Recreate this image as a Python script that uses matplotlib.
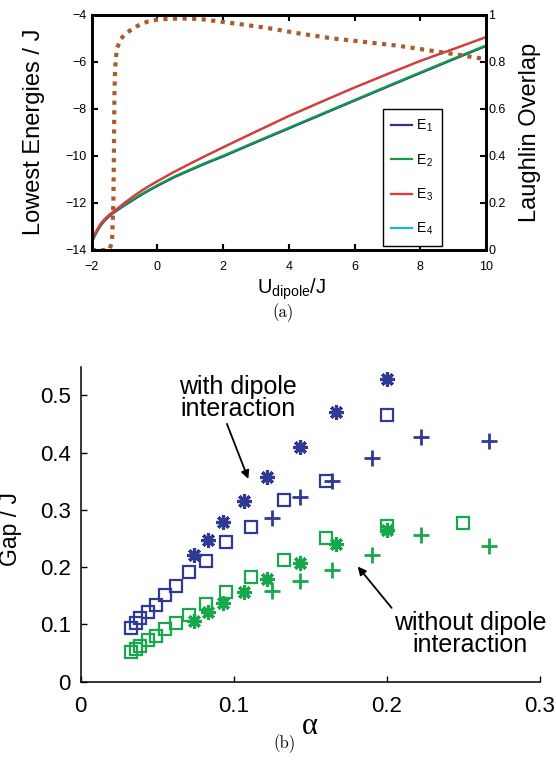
import matplotlib.pyplot as plt
from matplotlib.ticker import FuncFormatter

plt.rcParams['font.family'] = ['Liberation Sans', 'DejaVu Sans']
plt.rcParams['mathtext.fontset'] = 'custom'
plt.rcParams['mathtext.rm'] = 'Liberation Sans'
plt.rcParams['mathtext.it'] = 'Liberation Sans:italic'
plt.rcParams['mathtext.bf'] = 'Liberation Sans:bold'

# ---- (a) lowest energies and Laughlin overlap vs U_dipole ----
u_dip = [-2, -1.9, -1.75, -1.6, -1.45, -1.3, -1.15, -1, -0.75, -0.5, -0.25, 0, 0.5, 1,
         1.5, 2, 3, 4, 5, 6, 7, 8, 9, 10]
E1 = [-13.70, -13.38, -13.01, -12.75, -12.55, -12.39, -12.25, -12.11, -11.89, -11.67,
      -11.47, -11.28, -10.92, -10.61, -10.31, -10.03, -9.43, -8.84, -8.25, -7.66,
      -7.07, -6.49, -5.91, -5.34]
E2 = [-13.67, -13.35, -12.98, -12.72, -12.52, -12.36, -12.22, -12.08, -11.86, -11.64,
      -11.44, -11.25, -10.89, -10.58, -10.28, -10.00, -9.40, -8.81, -8.22, -7.63,
      -7.04, -6.46, -5.88, -5.31]
E3 = [-13.60, -13.30, -12.93, -12.68, -12.49, -12.33, -12.17, -12.00, -11.74, -11.50,
      -11.28, -11.08, -10.69, -10.33, -9.98, -9.64, -8.97, -8.31, -7.70, -7.10,
      -6.53, -5.97, -5.47, -4.96]
E4 = [-13.60, -13.30, -12.93, -12.68, -12.49, -12.33, -12.17, -12.00, -11.74, -11.50,
      -11.28, -11.08, -10.69, -10.33, -9.98, -9.64, -8.97, -8.31, -7.70, -7.10,
      -6.53, -5.97, -5.47, -4.96]

u_ov = [-2, -1.6, -1.45, -1.38, -1.34, -1.32, -1.31, -1.29, -1.26, -1.22, -1.12, -1.0,
        -0.8, -0.6, -0.3, 0, 0.4, 0.8, 1.3, 2.3, 3.3, 4.3, 5.3, 6.4, 7.4, 8.4, 9.2, 10]
overlap = [0, 0, 0.003, 0.04, 0.2, 0.45, 0.65, 0.76, 0.82, 0.86, 0.895, 0.915,
           0.935, 0.952, 0.97, 0.978, 0.982, 0.983, 0.981, 0.963, 0.944, 0.92,
           0.899, 0.882, 0.866, 0.845, 0.828, 0.81]

# ---- (b) gap vs alpha ----
a_sq = [0.033, 0.036, 0.039, 0.044, 0.049, 0.055, 0.062, 0.071, 0.082, 0.095,
        0.111, 0.133, 0.160, 0.200]
gap_sq_dip = [0.093, 0.102, 0.111, 0.122, 0.134, 0.152, 0.167, 0.191, 0.211, 0.244,
              0.270, 0.318, 0.350, 0.465]
a_sq2 = a_sq + [0.250]
gap_sq_nodip = [0.051, 0.057, 0.063, 0.073, 0.080, 0.092, 0.102, 0.117, 0.135, 0.156,
                0.182, 0.213, 0.251, 0.271, 0.277]

a_ast = [0.074, 0.083, 0.093, 0.107, 0.122, 0.143, 0.167, 0.200]
gap_ast_dip = [0.221, 0.248, 0.278, 0.316, 0.357, 0.409, 0.471, 0.529]
gap_ast_nodip = [0.106, 0.121, 0.137, 0.157, 0.180, 0.208, 0.240, 0.264]

a_plus = [0.125, 0.143, 0.164, 0.190, 0.222, 0.267]
gap_plus_dip = [0.286, 0.322, 0.350, 0.390, 0.428, 0.421]
gap_plus_nodip = [0.159, 0.176, 0.195, 0.221, 0.256, 0.236]

blue = '#2E3A94'
green = '#17A84B'

fig = plt.figure(figsize=(5.56, 7.68), dpi=100)

# top panel
ax = fig.add_axes([0.1649, 0.6745, 0.7092, 0.3066])
l4, = ax.plot(u_dip, E4, color='#1EB4D8', lw=1.6, zorder=1)
l1, = ax.plot(u_dip, E1, color='#2E3192', lw=1.6, zorder=2)
l2, = ax.plot(u_dip, E2, color='#0F9D48', lw=1.6, zorder=3)
l3, = ax.plot(u_dip, E3, color='#EE3333', lw=1.6, zorder=4)
ax.set_xlim(-2, 10)
ax.set_ylim(-14, -4)
ax.set_xticks(range(-2, 11, 2))
ax.set_yticks(range(-14, -3, 2))
ax.tick_params(direction='in', length=4, width=1.5, labelsize=9, top=True, right=False)
ax.tick_params(axis='x', pad=8)
ax.tick_params(axis='y', pad=4)
for s in ax.spines.values():
    s.set_linewidth(2)
ax.set_ylabel('Lowest Energies / J', fontsize=17)
ax.yaxis.set_label_coords(-0.118, 0.5)
ax.set_xlabel(r'U$_{\mathrm{dipole}}$/J', fontsize=14.5)
ax.xaxis.set_label_coords(0.508, -0.112)

leg = ax.legend([l1, l2, l3, l4], [r'E$_{\,1}$', r'E$_{\,2}$', r'E$_{\,3}$', r'E$_{\,4}$'],
                loc='lower right', bbox_to_anchor=(0.888, 0.018), borderaxespad=0,
                fontsize=10, handlelength=1.45, handletextpad=0.3, labelspacing=1.3,
                fancybox=False, edgecolor='k', framealpha=1, borderpad=0.6)
leg.get_frame().set_linewidth(1.0)

ax2 = ax.twinx()
ax2.plot(u_ov, overlap, color='#A95C2C', lw=3.0, linestyle=(0, (1.0, 1.3)), clip_on=False)
ax2.set_ylim(0, 1)
ax2.set_yticks([0, 0.2, 0.4, 0.6, 0.8, 1])
ax2.yaxis.set_major_formatter(FuncFormatter(lambda v, p: '%g' % v))
ax2.tick_params(direction='in', length=4, width=1.5, labelsize=9, pad=1.5)
for s in ax2.spines.values():
    s.set_linewidth(2)
ax2.set_ylabel('Laughlin Overlap', fontsize=17, rotation=90)
ax2.yaxis.set_label_coords(1.084, 0.5)

fig.text(0.509, 0.593, '(a)', family='cmr10', fontsize=12, ha='center', va='center')

# bottom panel
bx = fig.add_axes([0.1451, 0.1124, 0.8261, 0.4102])
bx.plot(a_sq, gap_sq_dip, 's', ms=8, mfc='none', mec=blue, mew=1.6)
bx.plot(a_ast, gap_ast_dip, marker=(8, 2, 0), ls='none', ms=10.5, mec=blue, mew=2.3)
bx.plot(a_plus, gap_plus_dip, '+', ms=11, mec=blue, mew=2.0)
bx.plot(a_sq2, gap_sq_nodip, 's', ms=8, mfc='none', mec=green, mew=1.6)
bx.plot(a_ast, gap_ast_nodip, marker=(8, 2, 0), ls='none', ms=10.5, mec=green, mew=2.3)
bx.plot(a_plus, gap_plus_nodip, '+', ms=11, mec=green, mew=2.0)
bx.set_xlim(0, 0.3)
bx.set_ylim(0, 0.55)
bx.set_xticks([0, 0.1, 0.2, 0.3])
bx.set_yticks([0, 0.1, 0.2, 0.3, 0.4, 0.5])
fmt = FuncFormatter(lambda v, p: '%g' % v)
bx.xaxis.set_major_formatter(fmt)
bx.yaxis.set_major_formatter(fmt)
bx.tick_params(direction='in', length=4, width=1.0, labelsize=16)
bx.tick_params(axis='x', pad=10)
bx.tick_params(axis='y', pad=7)
bx.spines['top'].set_visible(False)
bx.spines['right'].set_visible(False)
bx.spines['left'].set_linewidth(1.1)
bx.spines['bottom'].set_linewidth(1.1)
bx.set_ylabel('Gap / J', fontsize=16.5)
bx.yaxis.set_label_coords(-0.128, 0.485)

bx.annotate('with dipole\ninteraction', xy=(0.1095, 0.354), xytext=(0.1025, 0.4955),
            ha='center', va='center', fontsize=18, linespacing=0.92,
            arrowprops=dict(arrowstyle='-|>', color='k', lw=1.3, mutation_scale=12,
                            shrinkA=0, shrinkB=0, relpos=(0.4, 0)))
bx.annotate('without dipole\ninteraction', xy=(0.181, 0.201), xytext=(0.2544, 0.0834),
            ha='center', va='center', fontsize=18, linespacing=0.92,
            arrowprops=dict(arrowstyle='-|>', color='k', lw=1.3, mutation_scale=12,
                            shrinkA=0, shrinkB=0, relpos=(0.0, 1.0)))

fig.text(0.557, 0.054, 'α', family='Liberation Serif', fontsize=22, ha='center', va='center')
fig.text(0.511, 0.032, '(b)', family='cmr10', fontsize=12, ha='center', va='center')

fig.savefig('out.png', dpi=100)
